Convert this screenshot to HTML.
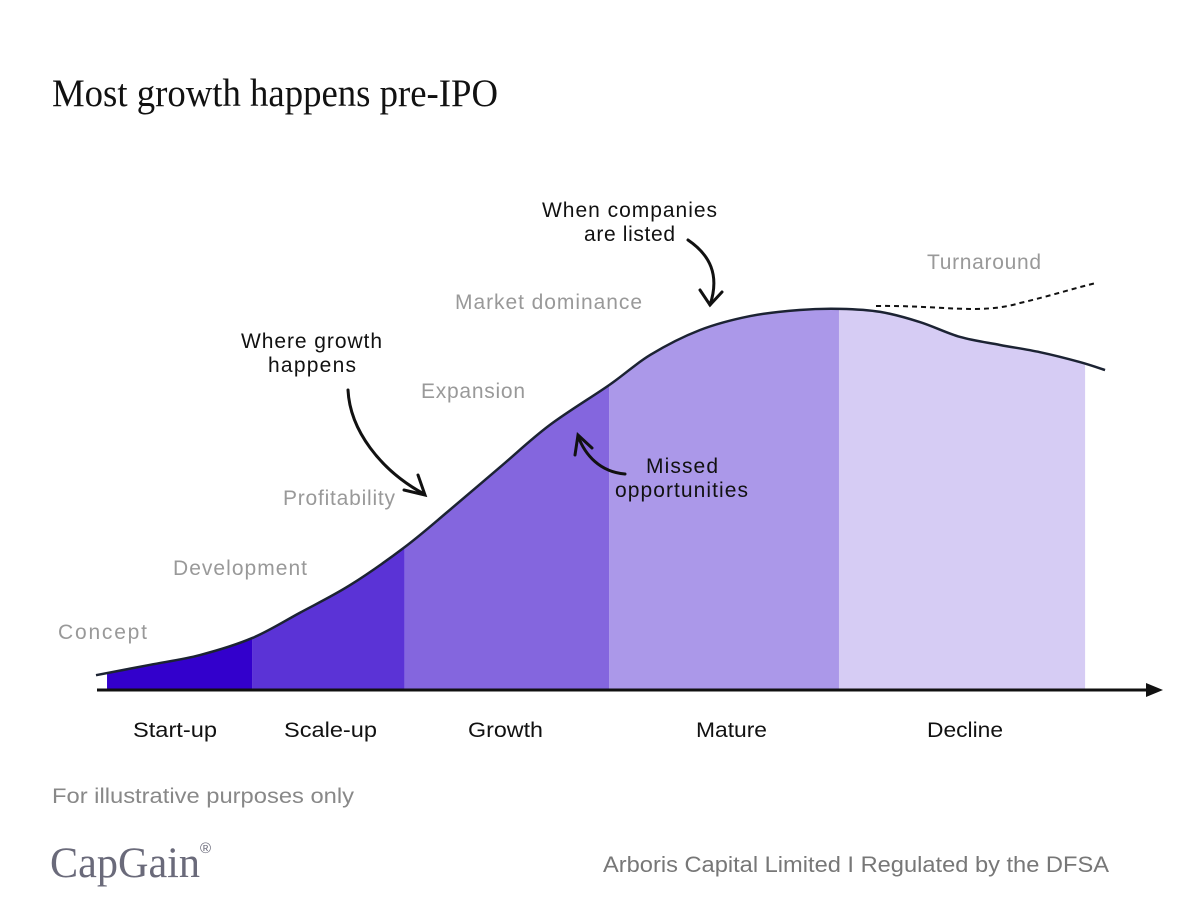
<!DOCTYPE html>
<html><head><meta charset="utf-8"><style>
body{margin:0;background:#fff;width:1200px;height:906px;overflow:hidden;font-family:"Liberation Sans",sans-serif}
</style></head><body>
<svg width="1200" height="906" viewBox="0 0 1200 906">
<text x="52" y="106" font-family="Liberation Serif,serif" font-size="39" textLength="446" lengthAdjust="spacingAndGlyphs" fill="#111">Most growth happens pre-IPO</text>
<defs><clipPath id="areaClip"><path id="areaPath" d=""/></clipPath></defs>
<g id="bands" clip-path="url(#areaClip)"></g>
<path id="curve" fill="none" stroke="#1c2333" stroke-width="2.5"/>
<path d="M876,306 C940,305 980,315 1020,303 C1050,296 1075,288 1096,283" fill="none" stroke="#111" stroke-width="2" stroke-dasharray="5,4"/>
<line x1="97" y1="690" x2="1150" y2="690" stroke="#111" stroke-width="3"/>
<polygon points="1146,683 1163,690 1146,697" fill="#111"/>
<g id="stageLabels" font-size="21" fill="#111"></g>
<g font-size="21" fill="#999" lengthAdjust="spacingAndGlyphs">
<text x="58" y="639" textLength="89">Concept</text>
<text x="173" y="575" textLength="134">Development</text>
<text x="283" y="505" textLength="112">Profitability</text>
<text x="421" y="398" textLength="104">Expansion</text>
<text x="455" y="309" textLength="187">Market dominance</text>
<text x="927" y="269" textLength="114">Turnaround</text>
</g>
<g font-size="21" fill="#111">
<text x="241" y="348" textLength="141">Where growth</text>
<text x="268" y="372" textLength="88">happens</text>
<text x="542" y="217" textLength="175">When companies</text>
<text x="584" y="241" textLength="91">are listed</text>
<text x="646" y="473" textLength="72">Missed</text>
<text x="615" y="497" textLength="133">opportunities</text>
</g>
<g fill="none" stroke="#111" stroke-width="3" stroke-linecap="round">
<path d="M348,390 C350,430 380,470 424,494"/>
<path d="M404,490 L425,495 L418,475"/>
<path d="M688,240 C710,255 720,275 710,305"/>
<path d="M700,290 L710,305 L722,292"/>
<path d="M625,474 C600,472 585,455 578,436"/>
<path d="M575,455 L578,435 L592,448"/>
</g>
<text x="52" y="803" font-size="21" textLength="302" lengthAdjust="spacingAndGlyphs" fill="#888">For illustrative purposes only</text>
<text x="50" y="877" font-family="Liberation Serif,serif" font-size="43" textLength="150" lengthAdjust="spacingAndGlyphs" fill="#6a6a7a">CapGain</text>
<text x="200" y="853" font-size="15" fill="#6a6a7a">®</text>
<text x="603" y="872" font-size="22" textLength="506" lengthAdjust="spacingAndGlyphs" fill="#777">Arboris Capital Limited I Regulated by the DFSA</text>
</svg>
<script>
// data: time (0-100 lifecycle) and relative growth value (0-100)
const times=[0,5.1,9.9,14.9,19.4,24.2,29.4,33.7,38.5,43.2,48.9,52.8,57.5,62.3,67,70.9,74.7,78.5,82.3,86.1,89.9,93.7,96.1];
const values=[3.9,6.6,9.2,13.7,20.3,27.6,37.6,47.4,58.7,69.7,80.3,88.2,94.7,98.4,100,100.3,99.5,96.8,92.9,90.8,88.9,86.3,84.2];
const stages=["Start-up","Scale-up","Growth","Mature","Decline"];
const stageStart=[1.05,14.86,29.4,48.86,70.76];
const stageEnd=[14.86,29.4,48.86,70.76,94.2];
const stageColors=["#3300cc","#5b33d6","#8466de","#ab98e9","#d6ccf4"];
const labelLeft=[133,284,468,696,927];
const labelLen=[84,93,75,71,76];
const xs=t=>96+t*10.5, ys=v=>690-v*3.8;
const pts=times.map((t,i)=>[xs(t),ys(values[i])]);
function cr(p){let d="M"+p[0][0]+","+p[0][1];for(let i=0;i<p.length-1;i++){const a=p[Math.max(0,i-1)],b=p[i],c=p[i+1],e=p[Math.min(p.length-1,i+2)];d+=" C"+(b[0]+(c[0]-a[0])/6)+","+(b[1]+(c[1]-a[1])/6)+" "+(c[0]-(e[0]-b[0])/6)+","+(c[1]-(e[1]-b[1])/6)+" "+c[0]+","+c[1];}return d;}
const d=cr(pts);
document.getElementById('curve').setAttribute('d',d);
document.getElementById('areaPath').setAttribute('d',d+" L"+pts[pts.length-1][0]+",690 L"+pts[0][0]+",690 Z");
const NS="http://www.w3.org/2000/svg";
const g=document.getElementById('bands'),lg=document.getElementById('stageLabels');
stages.forEach((s,i)=>{
 const r=document.createElementNS(NS,'rect');
 
 
 r.setAttribute('x',xs(stageStart[i]));r.setAttribute('width',xs(stageEnd[i])-xs(stageStart[i]));
 r.setAttribute('y',200);r.setAttribute('height',490);r.setAttribute('fill',stageColors[i]);g.appendChild(r);
 const t=document.createElementNS(NS,'text');
 
 
 t.setAttribute('x',labelLeft[i]);t.setAttribute('y',737);
 t.setAttribute('textLength',labelLen[i]);t.setAttribute('lengthAdjust','spacingAndGlyphs');
 t.textContent=s;lg.appendChild(t);
});
</script>
</body></html>
